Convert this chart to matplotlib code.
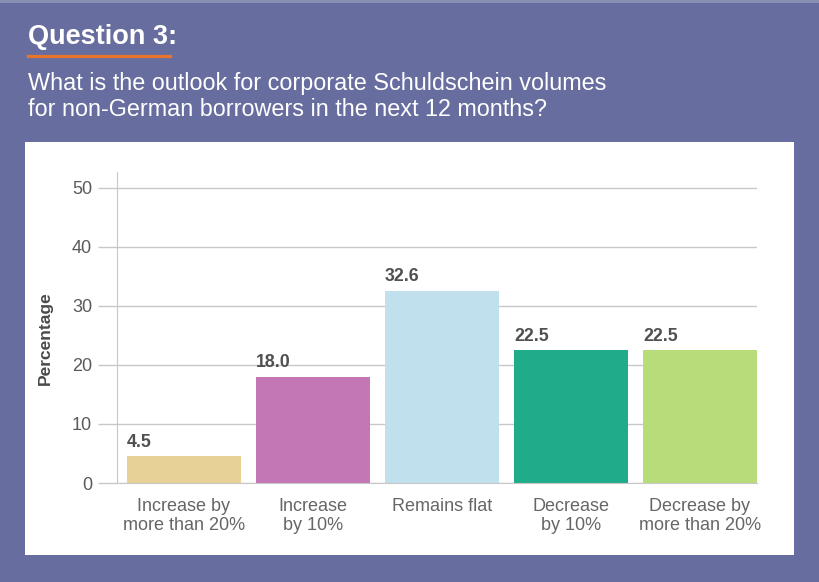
import matplotlib
matplotlib.use('Agg')
import matplotlib.pyplot as plt
from matplotlib.patches import Rectangle
from matplotlib.lines import Line2D

categories = ["Increase by\nmore than 20%", "Increase\nby 10%", "Remains flat",
              "Decrease\nby 10%", "Decrease by\nmore than 20%"]
values = [4.5, 18.0, 32.6, 22.5, 22.5]
value_labels = ["4.5", "18.0", "32.6", "22.5", "22.5"]
colors = ["#e8d196", "#c377b5", "#bfe0ec", "#1eac8a", "#b8dc7a"]
yticks = [0, 10, 20, 30, 40, 50]
title = "Question 3:"
subtitle_lines = ["What is the outlook for corporate Schuldschein volumes",
                  "for non-German borrowers in the next 12 months?"]

plt.rcParams['font.family'] = ['Liberation Sans', 'DejaVu Sans']

W, H = 820, 582
fig = plt.figure(figsize=(8.2, 5.82), dpi=100)
fig.patch.set_facecolor('#676e9f')


def fx(px):
    return px / W


def fy(py):
    return 1 - py / H


# thin lighter strip at the very top
fig.add_artist(Rectangle((0, fy(3)), 1, fy(0) - fy(3), transform=fig.transFigure,
                         facecolor='#8a90b4', edgecolor='none', zorder=0))
# white panel
fig.add_artist(Rectangle((fx(25), fy(555)), fx(794) - fx(25), fy(142) - fy(555),
                         transform=fig.transFigure, facecolor='white',
                         edgecolor='none', zorder=0))

# header texts
fig.text(fx(28), fy(37), title, color='white', fontsize=19.5, fontweight='bold',
         ha='left', va='center')
fig.add_artist(Line2D([fx(28), fx(170)], [fy(56), fy(56)], color='#e8732a',
                      lw=2.3, transform=fig.transFigure))
fig.text(fx(28), fy(84), subtitle_lines[0], color='white', fontsize=16.8,
         ha='left', va='center')
fig.text(fx(28), fy(110), subtitle_lines[1], color='white', fontsize=16.8,
         ha='left', va='center')

# axes
ax = fig.add_axes([fx(117), fy(483), fx(757) - fx(117), fy(172) - fy(483)])
ax.patch.set_alpha(0)
bar_w = 0.884
x = list(range(len(categories)))
ax.bar(x, values, width=bar_w, color=colors, zorder=2)
ax.set_xlim(-0.519, len(categories) - 1 + bar_w / 2)
ax.set_ylim(0, 52.7)

grid_c = '#c8c8c8'
ax.set_yticks(yticks)
ax.yaxis.grid(True, color=grid_c, lw=1)
ax.set_axisbelow(True)
for s in ['top', 'right']:
    ax.spines[s].set_visible(False)
ax.spines['left'].set_color(grid_c)
ax.spines['bottom'].set_color(grid_c)
ax.tick_params(axis='y', length=14, width=1, color=grid_c, labelsize=13,
               labelcolor='#5a5a5a', pad=4)
ax.set_xticks(x)
ax.set_xticklabels(categories, linespacing=1.1)
ax.tick_params(axis='x', length=0, labelsize=13, labelcolor='#666666', pad=11)

for i, (v, lbl) in enumerate(zip(values, value_labels)):
    ax.annotate(lbl, (i - bar_w / 2, v), xytext=(0, 4), textcoords='offset points',
                ha='left', va='bottom', fontsize=12.8, fontweight='bold',
                color='#505050')

fig.text(fx(45), fy(338), 'Percentage', rotation=90, ha='center', va='center',
         fontsize=12.5, fontweight='bold', color='#4a4a4a')

fig.savefig('out.png', dpi=100, facecolor=fig.get_facecolor())
